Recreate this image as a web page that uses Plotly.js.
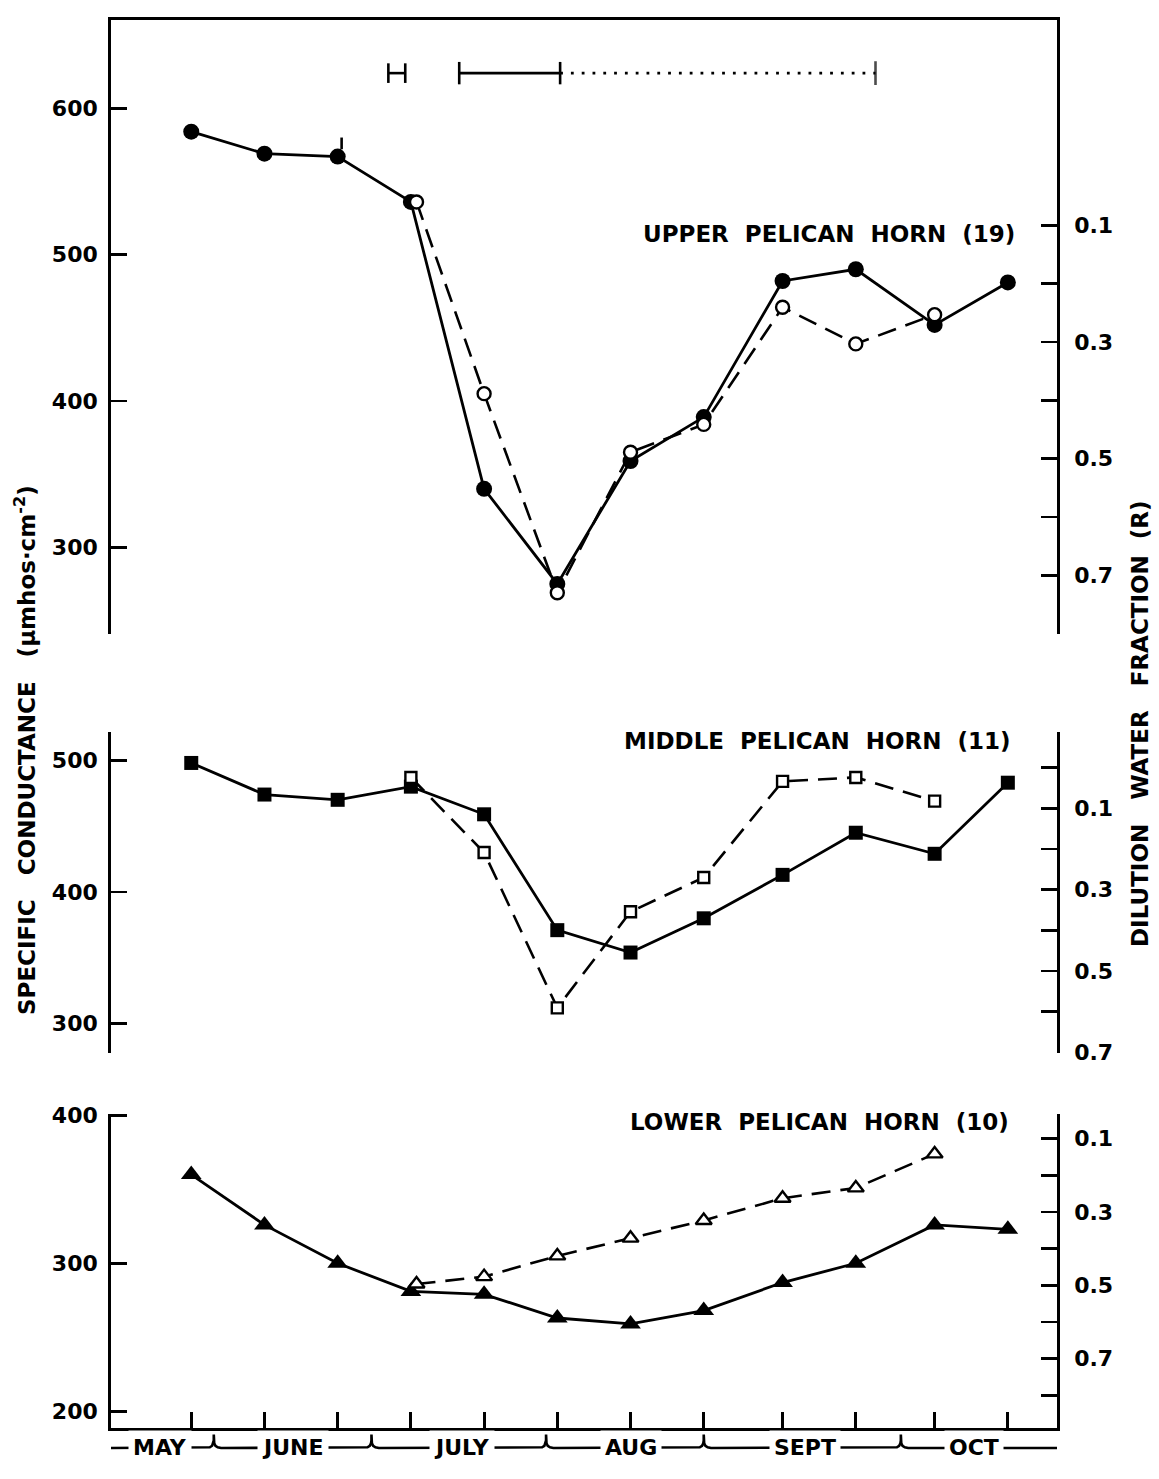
<!DOCTYPE html>
<html>
<head>
<meta charset="utf-8">
<script src="https://cdn.plot.ly/plotly-3.0.1.min.js"></script>
<style>
html,body{margin:0;padding:0;background:#fff;}
#chart{width:1159px;height:1479px;}
</style>
</head>
<body>
<div id="chart"></div>
<script>
// ---------------- data ----------------
// sampling dates (the 12 ticks on the time axis)
const sampleDates = ['2001-05-27','2001-06-09','2001-06-22','2001-07-05','2001-07-18','2001-07-31',
                     '2001-08-13','2001-08-26','2001-09-09','2001-09-22','2001-10-06','2001-10-19'];

// Upper Pelican Horn (19) – specific conductance
const upperSolid = [584, 569, 567, 536, 340, 275, 359, 389, 482, 490, 452, 481];
const upperOpenDates = ['2001-07-06','2001-07-18','2001-07-31','2001-08-13','2001-08-26','2001-09-09','2001-09-22','2001-10-06'];
const upperOpen = [536, 405, 269, 365, 384, 464, 439, 459];

// Middle Pelican Horn (11)
const midSolid = [498, 474, 470, 480, 459, 371, 354, 380, 413, 445, 429, 483];
const midOpenDates = ['2001-07-05','2001-07-18','2001-07-31','2001-08-13','2001-08-26','2001-09-09','2001-09-22','2001-10-06'];
const midOpen = [487, 430, 312, 385, 411, 484, 487, 469];

// Lower Pelican Horn (10)
const lowSolid = [360, 326, 300, 281, 279, 263, 259, 268, 287, 300, 326, 323];
const lowOpenDates = ['2001-07-06','2001-07-18','2001-07-31','2001-08-13','2001-08-26','2001-09-09','2001-09-22','2001-10-06'];
const lowOpen = [286, 291, 305, 317, 329, 344, 351, 374];

// period bars at the top of the upper panel
const periodLevel = 624;
const periodShort = ['2001-07-01','2001-07-04'];
const periodSolid = ['2001-07-13 14:00','2001-07-31 12:00'];
const periodDotted = ['2001-07-31 12:00','2001-09-25 12:00'];
// small flag mark on the third upper point
const flagMark = [572, 580];

// month strip
const monthNames = ['MAY','JUNE','JULY','AUG','SEPT','OCT'];
const monthLabelDates = ['2001-05-21 12:00','2001-06-14','2001-07-14','2001-08-13','2001-09-13','2001-10-13'];
const monthBreaks = ['2001-05-31','2001-06-28','2001-07-29','2001-08-26','2001-09-30'];

// tick labels
const upperCTicks = [300, 400, 500, 600];
const midCTicks = [300, 400, 500];
const lowCTicks = [200, 300, 400];
const rLabelTicks = [0.1, 0.3, 0.5, 0.7];
const rMinorTicks = [0.2, 0.4, 0.6, 0.8];

// ---------------- helpers ----------------
function toMs(s){
  const parts = s.split(' ');
  const d = parts[0].split('-').map(Number);
  const t = (parts[1] || '00:00').split(':').map(Number);
  return Date.UTC(d[0], d[1]-1, d[2], t[0], t[1]);
}
function fmt(ms){ return new Date(ms).toISOString().slice(0,16).replace('T',' '); }
function shiftDate(s, days){ return fmt(toMs(s) + days*86400000); }

const FONT = 'DejaVu Sans';
const BLK = '#000';
const xRange = ['2001-05-12 18:00', '2001-10-27 17:30'];
const DASH = '19px,10px';
const LW = 2.8;

// month strip path (built from the month-break dates)
const LINE = 21;
const bx = [-1.3, -0.7, -0.3, -0.08, 0, 0, 0, 0.08, 0.3, 0.7, 1.3];
const by = [0, 0.7, 2.2, 4.8, 7.5, 13.5, 7.5, 4.8, 2.2, 0.7, 0];
const stripX = [xRange[0]], stripY = [LINE];
monthBreaks.forEach(b => {
  bx.forEach((o, i) => { stripX.push(shiftDate(b, o)); stripY.push(LINE + by[i]); });
});
stripX.push(xRange[1]); stripY.push(LINE);

// ---------------- traces ----------------
const solidLine = {color: BLK, width: LW};
const dashLine = {color: BLK, width: 2.6, dash: DASH};
const traces = [
  // upper
  {x: sampleDates, y: upperSolid, xaxis: 'x2', yaxis: 'y', mode: 'lines+markers', line: solidLine,
   marker: {symbol: 'circle', size: 16, color: BLK}},
  {x: upperOpenDates, y: upperOpen, xaxis: 'x2', yaxis: 'y', mode: 'lines+markers', line: dashLine,
   marker: {symbol: 'circle', size: 13, color: '#fff', line: {color: BLK, width: 2.4}}},
  {x: [shiftDate(sampleDates[2], 0.7), shiftDate(sampleDates[2], 0.7)], y: flagMark, xaxis: 'x2', yaxis: 'y',
   mode: 'lines', line: {color: BLK, width: 2.6}},
  {x: periodShort, y: [periodLevel, periodLevel], xaxis: 'x2', yaxis: 'y', mode: 'lines+markers',
   line: {color: BLK, width: 2.6}, marker: {symbol: 'line-ns-open', size: 14, line: {color: BLK, width: 2.6}}},
  {x: periodSolid, y: [periodLevel, periodLevel], xaxis: 'x2', yaxis: 'y', mode: 'lines+markers',
   line: {color: BLK, width: 2.6}, marker: {symbol: 'line-ns-open', size: 16, line: {color: BLK, width: 2.6}}},
  {x: periodDotted, y: [periodLevel, periodLevel], xaxis: 'x2', yaxis: 'y', mode: 'lines+markers',
   line: {color: BLK, width: 2.8, dash: '2.8px,8px'}, marker: {symbol: 'line-ns-open', size: [0, 17], line: {color: BLK, width: 2.6}}},
  {x: [], y: [], xaxis: 'x2', yaxis: 'y2', mode: 'lines'},
  // middle
  {x: sampleDates, y: midSolid, xaxis: 'x3', yaxis: 'y3', mode: 'lines+markers', line: solidLine,
   marker: {symbol: 'square', size: 14, color: BLK}},
  {x: midOpenDates, y: midOpen, xaxis: 'x3', yaxis: 'y3', mode: 'lines+markers', line: dashLine,
   marker: {symbol: 'square', size: 11, color: '#fff', line: {color: BLK, width: 2.4}}},
  {x: [], y: [], xaxis: 'x3', yaxis: 'y4', mode: 'lines'},
  // lower
  {x: sampleDates, y: lowSolid, xaxis: 'x', yaxis: 'y5', mode: 'lines+markers', line: solidLine,
   marker: {symbol: 'triangle-up', size: 18, color: BLK}},
  {x: lowOpenDates, y: lowOpen, xaxis: 'x', yaxis: 'y5', mode: 'lines+markers', line: dashLine,
   marker: {symbol: 'triangle-up', size: 14, color: '#fff', line: {color: BLK, width: 2.4}}},
  {x: [], y: [], xaxis: 'x', yaxis: 'y6', mode: 'lines'},
  // month strip
  {x: stripX, y: stripY, xaxis: 'x', yaxis: 'y7', mode: 'lines', line: {color: BLK, width: 2.6}}
];

// ---------------- layout ----------------
const tickFont = {family: FONT, size: 22, color: BLK, weight: 'bold'};
const minorStyle = {ticks: 'inside', ticklen: 16, tickwidth: LW, tickcolor: BLK, showgrid: false};
const baseAxis = {showline: true, linecolor: BLK, linewidth: LW, ticks: 'inside', ticklen: 16,
  tickwidth: LW, tickcolor: BLK, showgrid: false, zeroline: false, tickfont: tickFont,
  tickmode: 'array', fixedrange: true};
function minor(vals){ return Object.assign({tickmode: 'array', tickvals: vals}, minorStyle); }

const annFont = {family: FONT, size: 23, color: BLK, weight: 'bold'};
const NB = '\u00a0';
const annotations = [
  {xref: 'paper', yref: 'paper', x: -0.0909, y: 0.4962, textangle: -90, showarrow: false,
   text: 'SPECIFIC' + NB + NB + NB + 'CONDUCTANCE' + NB + NB + NB + '(μmhos·cm<sup>-2</sup>)',
   font: annFont, xanchor: 'center', yanchor: 'middle'},
  {xref: 'paper', yref: 'paper', x: 1.0877, y: 0.5148, textangle: -90, showarrow: false,
   text: 'DILUTION' + NB + NB + NB + 'WATER' + NB + NB + NB + 'FRACTION' + NB + NB + '(R)',
   font: annFont, xanchor: 'center', yanchor: 'middle'},
  {xref: 'paper', yref: 'paper', x: 0.9577, y: 0.8523, showarrow: false, xanchor: 'right', yanchor: 'middle',
   text: 'UPPER' + NB + NB + 'PELICAN' + NB + NB + 'HORN' + NB + NB + '(19)', font: annFont},
  {xref: 'paper', yref: 'paper', x: 0.9535, y: 0.5024, showarrow: false, xanchor: 'right', yanchor: 'middle',
   text: 'MIDDLE' + NB + NB + 'PELICAN' + NB + NB + 'HORN' + NB + NB + '(11)', font: annFont},
  {xref: 'paper', yref: 'paper', x: 0.9509, y: 0.2395, showarrow: false, xanchor: 'right', yanchor: 'middle',
   text: 'LOWER' + NB + NB + 'PELICAN' + NB + NB + 'HORN' + NB + NB + '(10)', font: annFont}
];
monthNames.forEach((m, i) => {
  annotations.push({xref: 'x', yref: 'y7', x: monthLabelDates[i], y: LINE, text: m, showarrow: false,
    bgcolor: '#fff', borderpad: 4, font: {family: FONT, size: 22, color: BLK, weight: 'bold'},
    xanchor: 'center', yanchor: 'middle'});
});

const layout = {
  width: 1159, height: 1479,
  margin: {l: 111, r: 102, t: 20, b: 10},
  paper_bgcolor: '#fff', plot_bgcolor: 'rgba(0,0,0,0)',
  showlegend: false,
  font: {family: FONT, color: BLK},
  xaxis: {type: 'date', range: xRange, domain: [0, 1], anchor: 'y5', showline: true, linecolor: BLK,
    linewidth: LW, ticks: 'inside', ticklen: 16, tickwidth: LW, tickcolor: BLK, tickmode: 'array',
    tickvals: sampleDates, showticklabels: false, showgrid: false, zeroline: false, fixedrange: true},
  xaxis2: {type: 'date', range: xRange, domain: [0, 1], anchor: 'y', side: 'top', showline: true,
    linecolor: BLK, linewidth: LW, ticks: '', showticklabels: false, showgrid: false, zeroline: false, fixedrange: true},
  xaxis3: {type: 'date', range: xRange, domain: [0, 1], anchor: 'y3', visible: false, fixedrange: true},

  yaxis: Object.assign({}, baseAxis, {domain: [0.57626, 1], range: [240.8, 660.3], anchor: 'x2',
    tickvals: upperCTicks, ticktext: upperCTicks.map(String), ticklabelstandoff: 6,
    minor: minor([241.4])}),
  yaxis2: Object.assign({}, baseAxis, {overlaying: 'y', side: 'right', anchor: 'x2', range: [0.8005, -0.2521],
    tickvals: rLabelTicks, ticktext: rLabelTicks.map(v => v.toFixed(1)), ticklabelstandoff: 10,
    minor: minor(rMinorTicks)}),

  yaxis3: Object.assign({}, baseAxis, {domain: [0.28710, 0.50862], range: [277.7, 521.5], anchor: 'x3',
    tickvals: midCTicks, ticktext: midCTicks.map(String), ticklabelstandoff: 6,
    minor: minor([278.2, 521.0])}),
  yaxis4: Object.assign({}, baseAxis, {overlaying: 'y3', side: 'right', anchor: 'x3', range: [0.7012, -0.0872],
    tickvals: rLabelTicks, ticktext: rLabelTicks.map(v => v.toFixed(1)), ticklabelstandoff: 10,
    minor: minor([-0.0862, 0, 0.2, 0.4, 0.6])}),

  yaxis5: Object.assign({}, baseAxis, {domain: [0.0283, 0.245], range: [188.6, 401.0], anchor: 'x',
    tickvals: lowCTicks, ticktext: lowCTicks.map(String), ticklabelstandoff: 6}),
  yaxis6: Object.assign({}, baseAxis, {overlaying: 'y5', side: 'right', anchor: 'x', range: [0.8893, 0.0329],
    tickvals: rLabelTicks, ticktext: rLabelTicks.map(v => v.toFixed(1)), ticklabelstandoff: 10,
    minor: minor([0.0336, 0.2, 0.4, 0.6, 0.8])}),

  yaxis7: {domain: [0, 0.03382], range: [0, 49], anchor: 'x', visible: false, fixedrange: true},
  annotations: annotations
};

Plotly.newPlot('chart', traces, layout, {staticPlot: true, displayModeBar: false});
</script>
</body>
</html>
